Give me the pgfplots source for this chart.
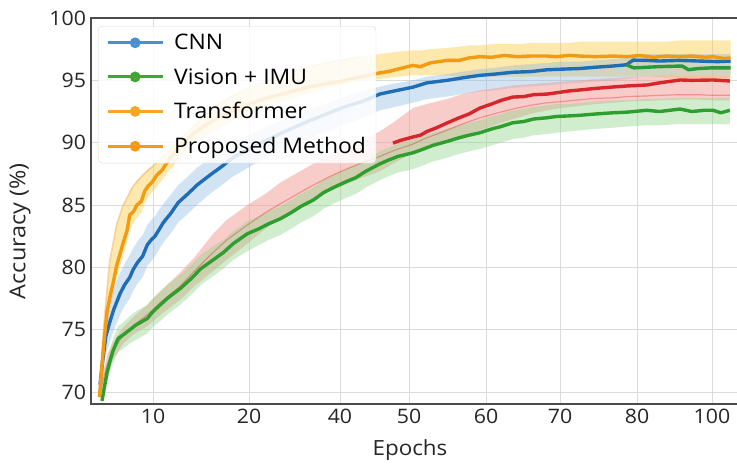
\documentclass[border=0pt]{standalone}
\usepackage{fontspec}
\setmainfont{Open Sans}[FakeStretch=1.07]
\usepackage{pgfplots}
\usepackage{pgfplotstable}
\pgfplotsset{compat=1.18}
\usepgfplotslibrary{fillbetween}

\definecolor{cnnline}{HTML}{1F6DB5}
\definecolor{cnnleg}{HTML}{4A90D0}
\definecolor{grnline}{HTML}{2E9E2E}
\definecolor{grnleg}{HTML}{3AAA35}
\definecolor{orgline}{HTML}{F29B11}
\definecolor{trfleg}{HTML}{F5A623}
\definecolor{propleg}{HTML}{F39C12}
\definecolor{redline}{HTML}{D7262B}
\definecolor{yband}{HTML}{FBC93D}
\definecolor{bband}{HTML}{7FB3E0}
\definecolor{rband}{HTML}{F29A94}
\definecolor{gband}{HTML}{8FD68A}
\definecolor{peach}{HTML}{F5B26B}

% x = horizontal position (0..100 across the axis), ticks labelled in epochs
\pgfplotstableread{
x y lo hi
1.3 69.6 69.4 70.4
1.6 71.5 70.8 73.0
2.0 74.0 73.0 75.5
2.5 76.5 75.4 78.3
3.0 77.8 76.8 80.7
3.4 78.7 77.7 81.7
4.0 80.2 79.2 83.5
4.5 81.1 80.1 84.2
5.0 82.0 81.0 85.0
5.6 83.0 82.0 85.6
6.0 84.2 83.0 86.1
6.6 84.5 83.6 86.6
7.1 85.0 84.0 87.0
7.8 85.3 84.4 87.3
8.3 86.1 85.1 87.6
8.8 86.5 85.6 87.9
9.4 86.8 86.0 88.1
10.2 87.4 86.5 88.4
11.0 87.8 87.0 88.8
12 88.6 87.7 89.3
13 89.2 88.3 89.8
14 89.9 88.9 90.4
16 90.8 89.8 91.4
18 91.5 90.6 92.4
20 92.1 91.2 93.3
22 92.6 91.8 93.8
25 93.2 92.4 94.4
28 93.7 93.0 94.9
31 94.1 93.5 95.5
34 94.5 94.0 96.1
36 94.7 94.3 96.4
38.5 94.9 94.6 96.6
40 95.1 94.8 96.8
42 95.3 95.0 96.9
44.7 95.6 95.1 97.1
46 95.7 95.2 97.2
47.5 95.9 95.3 97.3
49.8 96.2 95.4 97.4
51 96.1 95.4 97.4
52.5 96.4 95.4 97.5
55.1 96.6 95.4 97.6
57 96.6 95.3 97.7
58.5 96.8 95.3 97.8
60.2 96.9 95.3 97.8
62 96.85 95.3 97.9
64 97.0 95.3 97.9
66 96.9 95.3 97.9
68 96.95 95.3 98.0
70.6 96.95 95.3 98.0
72 96.9 95.3 98.0
74 97.0 95.3 98.0
75.7 96.95 95.3 98.1
78 96.9 95.3 98.1
80.8 96.95 95.3 98.1
83 96.9 95.3 98.1
85 97.0 95.3 98.1
87 96.85 95.3 98.1
89 96.95 95.2 98.1
91.2 96.9 95.2 98.2
93 96.95 95.2 98.2
95 96.85 95.2 98.2
96.3 96.9 95.2 98.2
98 96.75 95.2 98.2
99 96.8 95.2 98.2
}\proposed

\pgfplotstableread{
x y
1.4 70.6
2.0 75.5
2.9 80.5
4.0 83.5
5.0 85.0
6.5 86.5
8.0 87.4
10 88.3
12 89.3
14 90.4
16.5 91.6
19 92.8
21.5 93.6
24 94.3
27 94.9
29.5 95.4
32 95.8
34.5 96.2
38.5 96.6
42 96.9
}\transformer

\pgfplotstableread{
x y lo hi
1.4 70.6 70.0 71.2
1.8 72.5 71.4 73.6
2.3 74.5 73.0 75.9
2.9 75.6 74.0 77.2
3.5 76.6 74.9 78.3
4.5 77.9 76.2 79.6
5.2 78.6 76.9 80.3
6.0 79.2 77.5 81.0
6.5 79.8 78.1 81.5
7.2 80.4 78.7 82.1
8.0 80.9 79.2 82.6
8.7 81.8 80.1 83.4
9.3 82.2 80.5 83.8
9.9 82.5 80.9 84.1
10.5 83.0 81.4 84.6
11.2 83.6 82.0 85.1
12.3 84.3 82.7 85.8
13.5 85.2 83.6 86.6
15.0 85.9 84.3 87.3
16.4 86.6 85.0 88.0
18.4 87.4 85.9 88.7
20 88.0 86.5 89.3
22 88.8 87.3 90.0
26 89.9 88.5 91.0
30 90.9 89.5 91.9
34 91.8 90.4 92.7
38.9 92.8 91.4 93.6
40 93.0 91.6 93.8
42 93.3 92.0 94.1
44.7 93.9 92.6 94.5
46.5 94.1 92.8 94.7
49.8 94.45 93.2 95.0
52 94.8 93.5 95.3
55.1 95.0 93.7 95.5
57.5 95.2 93.9 95.7
60.2 95.4 94.1 95.9
62.5 95.5 94.2 96.0
65.3 95.65 94.4 96.2
68 95.7 94.5 96.3
70.6 95.85 94.6 96.4
73 95.9 94.7 96.5
75.7 95.95 94.8 96.5
78 96.05 94.9 96.6
80.8 96.15 95.0 96.7
82.9 96.25 95.1 96.8
83.9 96.62 95.2 97.0
86 96.6 95.3 97.1
88 96.55 95.3 97.1
91 96.6 95.4 97.1
94 96.55 95.4 97.1
97 96.5 95.4 97.1
99 96.55 95.4 97.1
}\cnn

\pgfplotstableread{
x y
82.9 96.25
84 96.0
86 96.05
88 96.1
91.5 96.15
92.5 95.85
94 95.95
96 96.0
99 96.0
}\greenup

\pgfplotstableread{
x y lo hi
1.7 69.3 69.0 69.6
2.0 70.2 69.6 70.9
2.5 71.6 70.8 72.4
3.0 72.6 71.7 73.5
3.4 73.3 72.3 74.3
4.2 74.3 73.2 75.3
5.0 74.6 73.5 75.6
6.0 75.0 73.9 76.1
7.0 75.4 74.2 76.5
8.7 75.9 74.7 77.0
9.5 76.4 75.2 77.5
10.5 76.9 75.6 78.0
12 77.6 76.3 78.7
13.8 78.3 77.0 79.4
15.5 79.1 77.8 80.2
17 79.9 78.6 81.0
18.9 80.6 79.3 81.7
20.5 81.2 79.9 82.2
22 81.9 80.6 82.9
24.2 82.7 81.3 83.7
26 83.1 81.8 84.1
27.5 83.5 82.2 84.5
29.3 83.9 82.6 84.9
31 84.4 83.1 85.4
32.5 84.9 83.6 85.9
34.4 85.4 84.1 86.4
36 86.0 84.7 87.0
37.5 86.4 85.1 87.4
39.6 86.9 85.6 87.9
41 87.2 85.9 88.2
42.5 87.7 86.4 88.7
44.7 88.3 87.0 89.3
46 88.6 87.3 89.6
47.5 88.9 87.6 89.9
49.9 89.2 87.9 90.2
51.5 89.5 88.2 90.5
53 89.8 88.5 90.8
55.1 90.1 88.8 91.1
57 90.4 89.1 91.4
58.5 90.6 89.3 91.6
60.2 90.8 89.5 91.8
62 91.1 89.8 92.1
63.5 91.3 90.0 92.3
65.3 91.6 90.3 92.6
67 91.7 90.4 92.7
68.5 91.9 90.6 92.9
70.6 92.0 90.7 93.0
72 92.1 90.8 93.1
74 92.15 90.9 93.1
75.7 92.2 91.0 93.2
78 92.3 91.1 93.3
80.8 92.4 91.2 93.4
83 92.45 91.3 93.4
86 92.6 91.4 93.5
88 92.5 91.4 93.5
91.2 92.7 91.5 93.6
93 92.5 91.5 93.6
95 92.6 91.5 93.6
96.3 92.6 91.5 93.6
97.5 92.4 91.5 93.6
98.9 92.6 91.5 93.6
}\vision

\pgfplotstableread{
x lo mid hi
1.4 69.5 70.0 70.5
2.5 71.3 72.2 73.0
3.4 72.6 73.3 74.0
5 73.9 74.6 75.2
6.5 74.6 75.3 76.0
8.7 75.3 76.2 77.0
11 76.3 77.3 78.2
13.8 77.4 78.5 79.6
16 78.5 79.7 80.8
18.9 79.7 81.2 82.7
21 80.6 82.2 83.8
24.2 81.9 83.4 85.0
27 83.1 84.4 85.9
29.3 84.0 85.1 86.8
32 84.8 85.9 87.6
34.4 85.5 86.6 88.3
37 86.1 87.3 89.0
39.6 86.7 87.9 89.6
42 87.2 88.4 90.2
44.7 87.7 88.9 90.9
47 88.4 89.4 91.7
49.9 89.2 89.9 92.8
52 89.6 90.4 93.1
55.1 90.1 91.0 93.5
57.5 90.5 91.5 93.9
60.2 91.0 92.0 94.2
63 91.5 92.4 94.4
65.3 91.9 92.7 94.6
68 92.3 93.0 94.7
70.6 92.6 93.2 94.8
73 92.8 93.3 94.9
75.7 92.95 93.45 95.0
78 93.1 93.55 95.1
80.8 93.2 93.6 95.2
83 93.3 93.7 95.25
86 93.35 93.75 95.3
88 93.4 93.8 95.35
91 93.45 93.85 95.4
94 93.45 93.85 95.4
96.3 93.4 93.8 95.4
98.9 93.4 93.8 95.4
}\redband

\pgfplotstableread{
x y
46.75 89.97
48 90.2
49.85 90.46
51 90.6
52 90.9
53.5 91.2
55.1 91.58
57 92.0
58.5 92.3
60.2 92.78
62 93.1
63.5 93.4
65.3 93.66
67 93.7
68.5 93.85
70.6 93.9
72 94.0
74 94.15
75.7 94.23
78 94.35
80.8 94.47
83 94.55
86.1 94.63
88 94.8
91.2 95.03
93 95.0
96.3 95.03
98.9 94.95
}\redcurve

\begin{document}
\begin{tikzpicture}
\begin{axis}[
  at={(0,0)}, anchor=south west,
  scale only axis, width=646bp, height=386bp,
  xmin=0, xmax=100, ymin=69.05, ymax=100,
  xtick={9.60,24.46,38.54,49.23,61.15,72.60,84.52,96.13},
  xticklabels={10,20,40,50,60,70,80,100},
  ytick={70,75,80,85,90,95,100},
  grid=major,
  major grid style={draw=black!14, line width=0.8bp},
  major tick length=0pt,
  axis line style={draw=none},
  /pgf/number format/assume math mode=true,
  tick label style={font=\fontsize{20}{24}\selectfont, text=black!85},
  yticklabel style={xshift=-1.5bp},
  xticklabel style={yshift=-2bp},
  xlabel={Epochs}, ylabel={Accuracy (\%)},
  xlabel style={at={(axis description cs:0.4938,-0.1192)}, anchor=center, font=\fontsize{21}{25}\selectfont, text=black!85},
  ylabel style={at={(axis description cs:-0.1099,0.448)}, anchor=center, font=\fontsize{22}{26}\selectfont, text=black!85},
  legend style={at={(axis description cs:0.0108,0.979)}, anchor=north west,
    draw=black!15, fill=white, fill opacity=0.85, text opacity=1,
    rounded corners=4bp, font=\fontsize{21.5}{25}\selectfont,
    row sep=13bp, inner xsep=8bp, inner ysep=6bp},
  legend cell align=left,
  legend image code/.code={\draw[mark repeat=2,mark phase=2,#1] plot coordinates {(0bp,0bp) (27.5bp,0bp) (55bp,0bp)};\path (63bp,0bp);},
]
% bands
\addplot[name path=yh, draw=none, forget plot] table[x=x,y=hi]{\proposed};
\addplot[name path=yl, draw=none, forget plot] table[x=x,y=lo]{\proposed};
\addplot[yband, fill opacity=0.42, draw=none, forget plot] fill between[of=yh and yl];
\addplot[name path=bh, draw=none, forget plot] table[x=x,y=hi]{\cnn};
\addplot[name path=bl, draw=none, forget plot] table[x=x,y=lo]{\cnn};
\addplot[bband, fill opacity=0.35, draw=none, forget plot] fill between[of=bh and bl];
\addplot[name path=rh, draw=none, forget plot] table[x=x,y=hi]{\redband};
\addplot[name path=rl, draw=none, forget plot] table[x=x,y=lo]{\redband};
\addplot[rband, fill opacity=0.5, draw=none, forget plot] fill between[of=rh and rl];
\addplot[name path=gh, draw=none, forget plot] table[x=x,y=hi]{\vision};
\addplot[name path=gl, draw=none, forget plot] table[x=x,y=lo]{\vision};
\addplot[gband, fill opacity=0.42, draw=none, forget plot] fill between[of=gh and gl];
% faint lines
\addplot[redline, opacity=0.35, line width=1.2bp, forget plot] table[x=x,y=mid]{\redband};
\addplot[peach, opacity=0.55, line width=1.6bp, forget plot] table[x=x,y=y]{\transformer};
% main lines
\addplot[redline, line width=3.4bp, line join=round, forget plot] table[x=x,y=y]{\redcurve};
\addplot[grnline, line width=3.4bp, line join=round, forget plot] table[x=x,y=y]{\vision};
\addplot[cnnline, line width=3.4bp, line join=round, forget plot] table[x=x,y=y]{\cnn};
\addplot[grnline!85!teal, line width=3.4bp, line join=round, forget plot] table[x=x,y=y]{\greenup};
\addplot[orgline, line width=3.4bp, line join=round, forget plot] table[x=x,y=y]{\proposed};
% legend
\addlegendimage{cnnleg, line width=3bp, mark=*, mark size=3.8bp}
\addlegendentry{CNN}
\addlegendimage{grnleg, line width=3bp, mark=*, mark size=3.8bp}
\addlegendentry{Vision + IMU}
\addlegendimage{trfleg, line width=3bp, mark=*, mark size=3.8bp}
\addlegendentry{Transformer}
\addlegendimage{propleg, line width=3bp, mark=*, mark size=3.8bp}
\addlegendentry{Proposed Method}
\end{axis}
\draw[line width=1.3bp, draw=black!70] (646bp,386bp) -- (0bp,386bp) -- (0bp,0bp) -- (646bp,0bp);
\pgfresetboundingbox
\path[use as bounding box] (-91bp,-64bp) rectangle (646bp,404bp);
\end{tikzpicture}
\end{document}
